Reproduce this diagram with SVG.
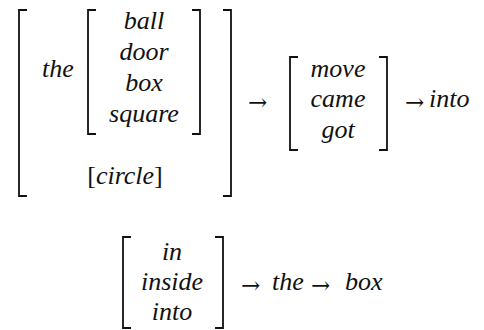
<svg xmlns="http://www.w3.org/2000/svg" width="484" height="330" viewBox="0 0 484 330" font-family="Liberation Serif, serif">
<style>
svg text.w{font-family:'Liberation Serif',serif !important;font-style:italic;font-size:26px;fill:#111}
svg text.a{font-family:'DejaVu Serif',serif !important;font-size:23px;fill:#111}
.c{text-anchor:middle}
.b{fill:none;stroke:#111;stroke-width:1.8}
</style>
<rect width="484" height="330" fill="#fff"/>
<g id="brackets">
<path class="b" d="M27,10H19V196H27"/>
<path class="b" d="M223,10H231V196H223"/>
<path class="b" d="M96,10H88V134H96"/>
<path class="b" d="M192,10H200V134H192"/>
<path class="b" d="M298,57H290V150H298"/>
<path class="b" d="M379,57H387V150H379"/>
<path class="b" d="M131,237H123V328H131"/>
<path class="b" d="M215,237H223V328H215"/>
</g>
<g id="row1">
<text class="w" style="font-family:'Liberation Serif',serif" x="42" y="77">the</text>
<text class="w c" style="font-family:'Liberation Serif',serif" x="144" y="29">ball</text>
<text class="w c" style="font-family:'Liberation Serif',serif" x="144" y="60">door</text>
<text class="w c" style="font-family:'Liberation Serif',serif" x="144" y="91">box</text>
<text class="w c" style="font-family:'Liberation Serif',serif" x="144" y="122">square</text>
<text class="w c" style="font-family:'Liberation Serif',serif" x="125" y="184"><tspan style="font-style:normal">[</tspan>circle<tspan style="font-style:normal">]</tspan></text>
<text class="w c" style="font-family:'Liberation Serif',serif" x="338" y="77">move</text>
<text class="w c" style="font-family:'Liberation Serif',serif" x="338" y="107">came</text>
<text class="w c" style="font-family:'Liberation Serif',serif" x="338" y="138">got</text>
<text class="w" style="font-family:'Liberation Serif',serif" x="429" y="107">into</text>
</g>
<g id="row2">
<text class="w c" style="font-family:'Liberation Serif',serif" x="172" y="260">in</text>
<text class="w c" style="font-family:'Liberation Serif',serif" x="172" y="290">inside</text>
<text class="w c" style="font-family:'Liberation Serif',serif" x="172" y="320">into</text>
<text class="w" style="font-family:'Liberation Serif',serif" x="272" y="290">the</text>
<text class="w" style="font-family:'Liberation Serif',serif" x="345" y="290">box</text>
</g>
<g id="arrows">
<text class="a" style="font-family:'DejaVu Serif',serif" x="248" y="110">→</text>
<text class="a" style="font-family:'DejaVu Serif',serif" x="405" y="110">→</text>
<text class="a" style="font-family:'DejaVu Serif',serif" x="241" y="293">→</text>
<text class="a" style="font-family:'DejaVu Serif',serif" x="311" y="293">→</text>
</g>
</svg>
